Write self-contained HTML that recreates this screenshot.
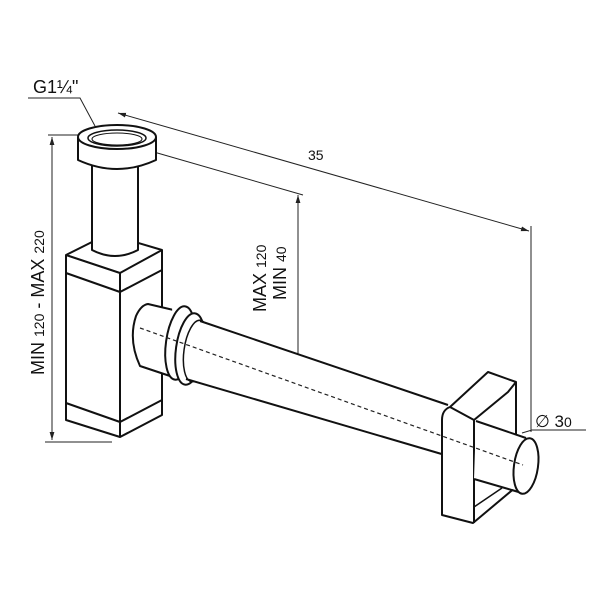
<!DOCTYPE html>
<html><head><meta charset="utf-8"><style>html,body{margin:0;padding:0;background:#fff}</style></head><body>
<svg width="600" height="600" viewBox="0 0 600 600" xmlns="http://www.w3.org/2000/svg" font-family="Liberation Sans, sans-serif">
<defs>
<marker id="a" viewBox="0 0 10 10" refX="10" refY="5" markerWidth="8" markerHeight="8" orient="auto-start-reverse"><path d="M0,2 L10,5 L0,8 z" fill="#222"/></marker>
</defs>
<g stroke="#222" fill="none" stroke-width="1">
<path d="M28,98 H80 L95,126"/>
<line x1="52" y1="137" x2="52" y2="440" marker-start="url(#a)" marker-end="url(#a)"/>
<path d="M48,135 H80 M45,442 H112"/>
<line x1="118" y1="113" x2="529" y2="231" marker-start="url(#a)" marker-end="url(#a)"/>
<line x1="140" y1="148" x2="303" y2="195"/>
<line x1="531" y1="226" x2="531" y2="432"/>
<line x1="298" y1="195" x2="298" y2="383" marker-start="url(#a)" marker-end="url(#a)"/>
<path d="M522,433 L532,430 H586"/>
</g>
<g stroke="#111" fill="#fff" stroke-width="2" stroke-linejoin="round">
<path d="M66,255 L108,234 L162,250 L162,415 L120,437 L66,420 Z"/>
<path d="M66,255 L120,273 L162,250 M66,273 L120,292 L162,270 M120,273 V437 M66,403 L120,422 L162,400"/>
<path d="M92,160 V250 Q115,262 138,250 V160 Z"/>
<path d="M78,137 V160 Q117,178 156,160 V137"/>
<ellipse cx="117" cy="137" rx="39" ry="12"/>
<ellipse cx="117" cy="138" rx="29" ry="8" stroke-width="1.5"/>
<ellipse cx="117" cy="139" rx="25" ry="6" stroke-width="1"/>
<!-- stub -->
<path d="M148,304 L182,312 L182,380 L140,366 Q128,340 136,316 Q141,305 148,304 Z"/>
<!-- collar -->
<path d="M172,305 L192,312 L196,386 L174,380 Z" stroke="none"/>
<ellipse cx="180" cy="343" rx="14" ry="37" transform="rotate(8 180 343)"/>
<ellipse cx="190" cy="349" rx="14" ry="36" transform="rotate(8 190 349)"/>
<ellipse cx="196" cy="351" rx="12" ry="31" transform="rotate(8 196 351)" stroke-width="1.5"/>
<path d="M200,321 L448,405 L448,456 L188,380 Z" stroke="none"/>
<line x1="200" y1="321" x2="448" y2="405"/>
<line x1="186" y1="379" x2="445" y2="455"/>
<path d="M442,420 Q442,410 450,407 L488,372 L516,382 L516,487 L473,523 L442,515 Z"/>
<path d="M450,407 L474,420 L474,523 M474,420 L508,392 L516,382"/>
<path d="M476,421 L527,438 L527,493 L474,479 Z" stroke="none"/>
<line x1="476" y1="421" x2="526" y2="438"/>
<line x1="474" y1="479" x2="522" y2="493"/>
<path d="M474,507 L502,488" stroke-width="1.5"/>
<ellipse cx="526" cy="466" rx="12" ry="28" transform="rotate(8 526 466)"/>
</g>
<line x1="140" y1="328" x2="523" y2="465" stroke="#222" stroke-width="1.2" stroke-dasharray="4,3"/>
<g fill="#111">
<text x="33" y="93" font-size="18">G1¼"</text>
<text x="308" y="160" font-size="14">35</text>
<text transform="translate(44,375) rotate(-90)" font-size="18">MIN <tspan font-size="14">120</tspan> - MAX <tspan font-size="14">220</tspan></text>
<text transform="translate(266,312) rotate(-90)" font-size="18">MAX <tspan font-size="14">120</tspan></text>
<text transform="translate(286,300) rotate(-90)" font-size="18">MIN <tspan font-size="14">40</tspan></text>
<text x="535" y="427" font-size="17">∅ 3<tspan font-size="14">0</tspan></text>
</g>
</svg>
</body></html>
